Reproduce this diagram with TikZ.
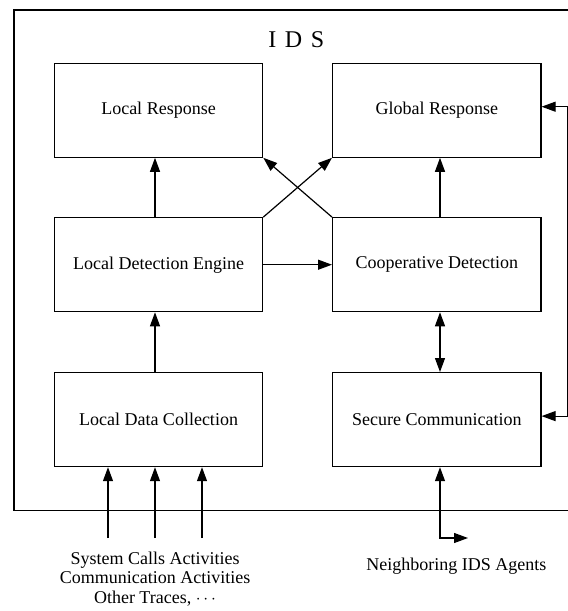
\documentclass[tikz,border=0pt]{standalone}
\usepackage{fontspec}
\setmainfont{Liberation Serif}
\usetikzlibrary{arrows.meta}

\tikzset{
  blk/.style={draw, line width=1.2pt, minimum width=208.4pt, minimum height=94pt,
              inner sep=0pt, font=\fontsize{18}{20}\selectfont},
  lbl/.style={inner sep=0pt, font=\fontsize{18}{19.7}\selectfont},
  conn/.style={line width=1.2pt, -{Triangle[length=14pt,width=10pt]}},
  biconn/.style={line width=1.2pt, {Triangle[length=14pt,width=10pt]}-{Triangle[length=14pt,width=10pt]}},
  frame/.style={line width=1.2pt}
}

\begin{document}
\begin{tikzpicture}[x=1pt, y=-1pt]
  \useasboundingbox (0,0) rectangle (568,611);

  % outer IDS frame (its right edge lies past the page)
  \begin{scope}
    \clip (0,0) rectangle (568,611);
    \draw[frame] (14,10) rectangle (590,510.7);
  \end{scope}
  \node[inner sep=0pt, anchor=base, font=\fontsize{24}{26}\selectfont] (title)
    at (296.3,47.3) {I\hspace{0.36em}D\hspace{0.36em}S};

  % functional blocks
  \node[blk] (LR)  at (158.5,110.2) {Local Response};
  \node[blk] (GR)  at (436.8,110.2) {Global Response};
  \node[blk] (LDE) at (158.5,264.7) {Local Detection Engine};
  \node[blk] (CD)  at (436.8,264.7) {Cooperative Detection};
  \node[blk] (LDC) at (158.5,419.6) {Local Data Collection};
  \node[blk] (SC)  at (436.8,419.6) {Secure Communication};

  % helper columns and free ends
  \coordinate (lx) at (155,0);
  \coordinate (rx) at (440,0);
  \coordinate (in1) at (108,538);
  \coordinate (in2) at (155,538);
  \coordinate (in3) at (202,538);
  \coordinate (nb)  at (440,538);
  \coordinate (nbe) at (468,538);

  % vertical flows
  \draw[conn] (LDE.north -| lx) -- (LR.south -| lx);
  \draw[conn] (LDC.north -| lx) -- (LDE.south -| lx);
  \draw[conn] (CD.north -| rx) -- (GR.south -| rx);
  \draw[biconn] (CD.south -| rx) -- (SC.north -| rx);

  % detection engine to cooperative detection
  \draw[conn] (LDE.east) -- (CD.west);

  % crossing arrows
  \draw[conn] (LDE.north east) -- (GR.south west);
  \draw[conn] (CD.north west) -- (LR.south east);

  % secure communication <-> global response
  \draw[biconn] ([yshift=3.5pt]GR.east) -- ++(26,0) |- ([yshift=3.5pt]SC.east);

  % audit inputs
  \draw[conn] (in1) -- (in1 |- LDC.south);
  \draw[conn] (in2) -- (in2 |- LDC.south);
  \draw[conn] (in3) -- (in3 |- LDC.south);

  % link to neighbouring agents
  \draw[biconn] (SC.south -| nb) -- (nb) -- (nbe);

  % external labels
  \node[lbl, align=center, anchor=north] (src) at (155,551.5)
    {System Calls Activities\\Communication Activities\\Other Traces, $\cdots$};
  \node[lbl, anchor=base] (nbr) at (456.3,570.5) {Neighboring IDS Agents};
\end{tikzpicture}
\end{document}
